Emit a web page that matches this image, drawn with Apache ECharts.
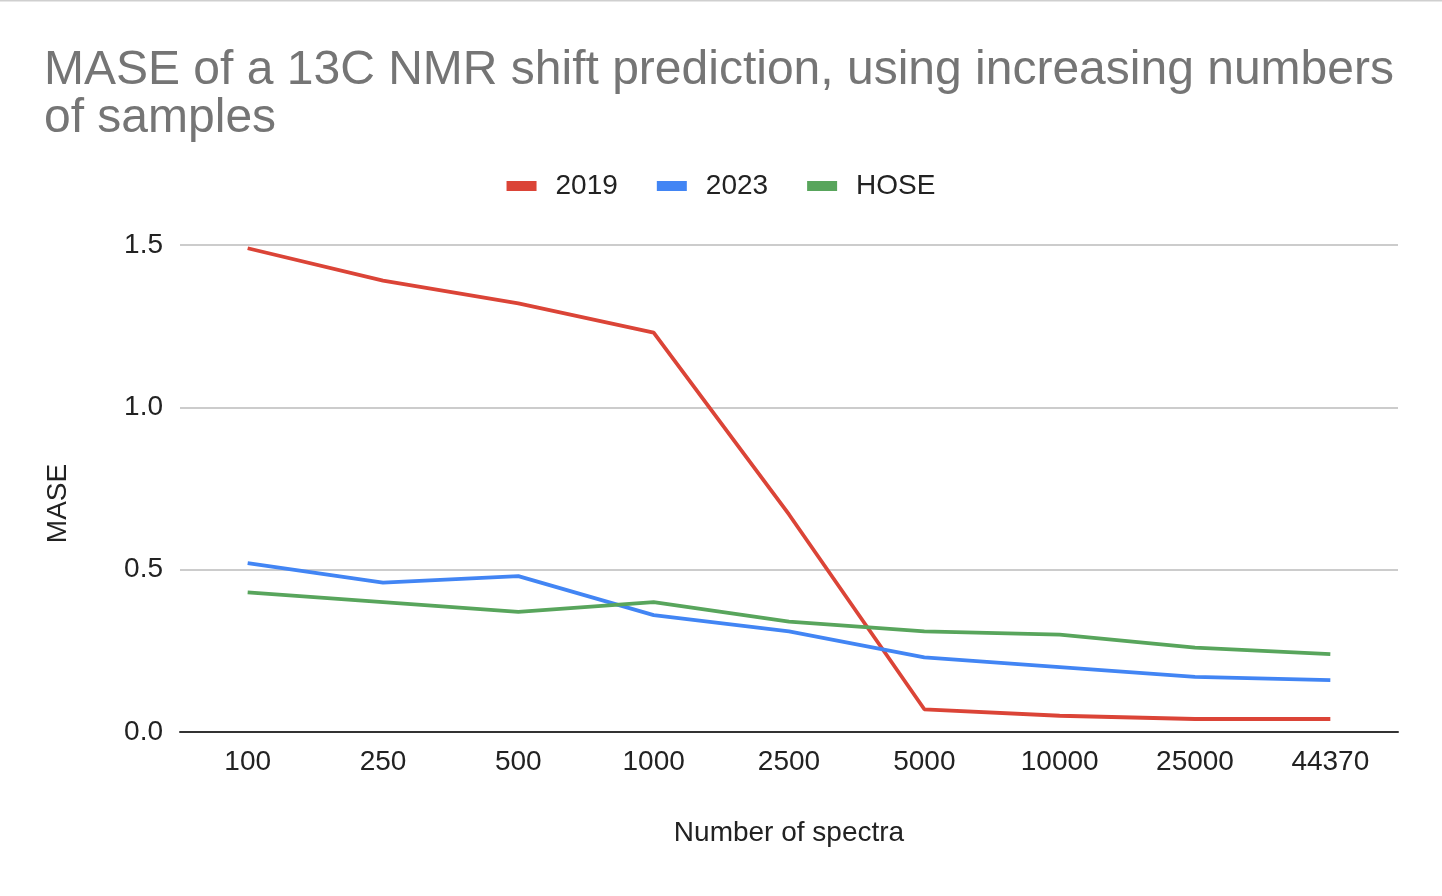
<!DOCTYPE html>
<html>
<head>
<meta charset="utf-8">
<script src="https://cdn.jsdelivr.net/npm/echarts@6/dist/echarts.min.js"></script>
<style>
html,body{margin:0;padding:0;background:#fff;}
#c{width:1442px;height:896px;}
</style>
</head>
<body>
<div id="c"></div>
<script>
var categories = ["100","250","500","1000","2500","5000","10000","25000","44370"];
var s2019 = [1.49,1.39,1.32,1.23,0.67,0.07,0.05,0.04,0.04];
var s2023 = [0.52,0.46,0.48,0.36,0.31,0.23,0.20,0.17,0.16];
var sHOSE = [0.43,0.40,0.37,0.40,0.34,0.31,0.30,0.26,0.24];
var yTicks = [0, 0.5, 1.0, 1.5];

var font = "'Liberation Sans', Arial, sans-serif";
var chart = echarts.init(document.getElementById('c'));
function line(name, data, color){
  return {name:name, type:'line', data:data, symbol:'none', showSymbol:false,
    lineStyle:{width:3.8, color:color}, itemStyle:{color:color}};
}
chart.setOption({
  animation:false,
  textStyle:{fontFamily:font},
  title:{text:'MASE of a 13C NMR shift prediction, using increasing numbers\nof samples',
    left:39, top:42,
    textStyle:{fontFamily:font, fontSize:48, fontWeight:'normal', color:'#757575', lineHeight:48}},
  legend:{top:167, left:'center', itemWidth:30, itemHeight:10, itemGap:39,
    icon:'rect',
    textStyle:{fontFamily:font, fontSize:28, color:'#222', padding:[0,0,0,14]}},
  grid:{left:180, right:44, top:245, bottom:164, containLabel:false},
  xAxis:{type:'category', data:categories, boundaryGap:true,
    name:'Number of spectra', nameLocation:'middle', nameGap:87,
    nameTextStyle:{fontFamily:font, fontSize:28, color:'#222'},
    axisLine:{lineStyle:{color:'#333', width:2}},
    axisTick:{show:false},
    axisLabel:{fontFamily:font, fontSize:28, color:'#222', margin:16}},
  yAxis:{type:'value', min:0, max:1.5, interval:0.5,
    name:'MASE', nameLocation:'middle', nameGap:108, nameRotate:90,
    nameTextStyle:{fontFamily:font, fontSize:28, color:'#222', padding:[0,30,0,0]},
    axisLine:{show:false}, axisTick:{show:false},
    splitLine:{lineStyle:{color:'#cccccc', width:2}},
    axisLabel:{fontFamily:font, fontSize:28, color:'#222', margin:17,
      formatter:function(v){return v.toFixed(1);}}},
  series:[line('2019', s2019, '#db4437'), line('2023', s2023, '#4285f4'), line('HOSE', sHOSE, '#58a55c')],
  graphic:[{type:'line', shape:{x1:0,y1:0.5,x2:1442,y2:0.5}, style:{stroke:'#cfcfcf', lineWidth:2}}]
});
</script>
</body>
</html>
